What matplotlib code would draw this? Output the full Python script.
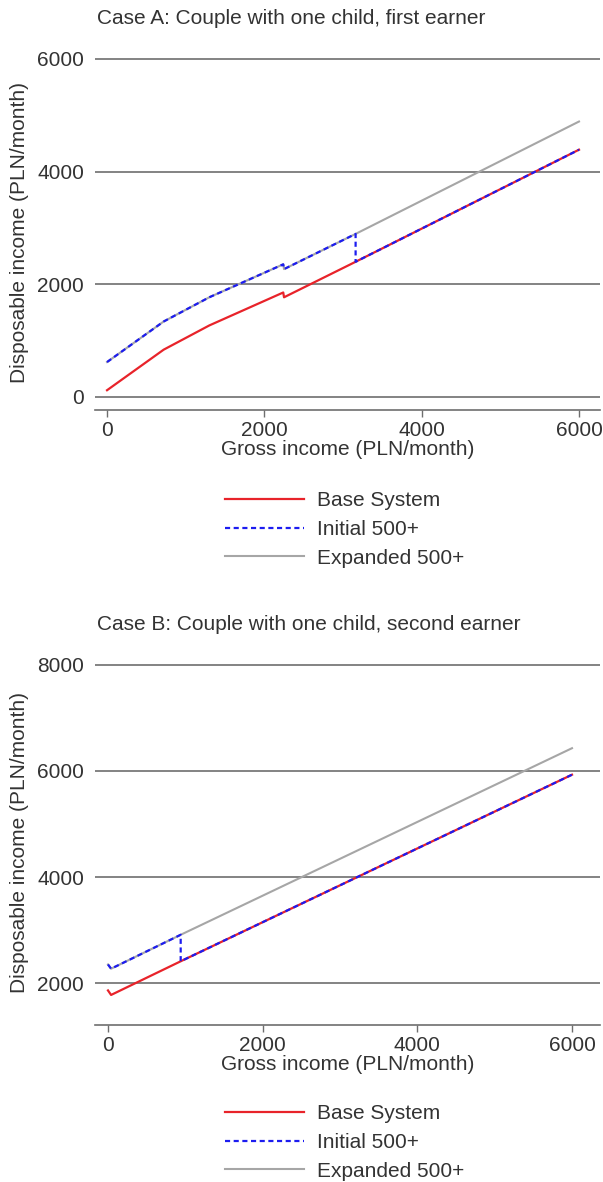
import matplotlib.pyplot as plt

plt.rcParams['font.family'] = ['Liberation Sans', 'DejaVu Sans']

# Case A: first earner
gross_a = [0, 720, 1300, 2240, 2250, 3160, 6000]
base_a = [120, 840, 1270, 1855, 1770, 2400, 4390]
gross_a_init = [0, 720, 1300, 2240, 2250, 3160, 3160, 6000]
initial_a = [620, 1340, 1770, 2355, 2270, 2895, 2400, 4390]
expanded_a = [620, 1340, 1770, 2355, 2270, 2895, 4890]

# Case B: second earner
gross_b = [0, 40, 940, 6000]
base_b = [1860, 1775, 2410, 5930]
gross_b_init = [0, 40, 940, 940, 6000]
initial_b = [2350, 2270, 2910, 2410, 5930]
expanded_b = [2350, 2270, 2910, 6430]

x_ticks = [0, 2000, 4000, 6000]
y_ticks_a = [0, 2000, 4000, 6000]
y_ticks_b = [2000, 4000, 6000, 8000]

W, H = 603, 1182
txt = '#333333'
grid = '#6e6e6e'
fs = 15

fig = plt.figure(figsize=(W / 100, H / 100), dpi=100)


def panel(top_px, bot_px, xlim, ylim, gx, base, gxi, init, exp, yticks, title, leg_top):
    ax = fig.add_axes([95 / W, 1 - bot_px / H, 505 / W, (bot_px - top_px) / H])
    ax.plot(gx, exp, color='#a6a6a6', lw=1.5, zorder=2, label='Expanded 500+')
    ax.plot(gx, base, color='#e8232a', lw=1.6, zorder=3, label='Base System')
    ax.plot(gxi, init, color='#1c1cf0', lw=1.6, ls=(0, (2.3, 1.6)), zorder=4,
            label='Initial 500+')
    ax.set_xlim(*xlim)
    ax.set_ylim(*ylim)
    ax.set_xticks(x_ticks)
    ax.set_yticks(yticks)
    ax.grid(axis='y', color=grid, lw=1.2)
    ax.set_axisbelow(True)
    for s in ['top', 'right', 'left']:
        ax.spines[s].set_visible(False)
    ax.spines['bottom'].set_color(grid)
    ax.spines['bottom'].set_linewidth(1.2)
    ax.tick_params(axis='x', length=5, width=1, color=grid, pad=3,
                   labelsize=fs, labelcolor=txt)
    ax.tick_params(axis='y', length=0, pad=8, labelsize=fs, labelcolor=txt)
    ax.set_xlabel('Gross income (PLN/month)', fontsize=fs, color=txt, labelpad=0)
    ax.set_ylabel('Disposable income (PLN/month)', fontsize=fs, color=txt, labelpad=6)
    fig.text(97 / W, 1 - (top_px - 36) / H, title, fontsize=fs, color=txt,
             va='center', ha='left')
    h, l = ax.get_legend_handles_labels()
    order = [1, 2, 0]
    ax.legend([h[i] for i in order], [l[i] for i in order],
              loc='upper left', bbox_to_anchor=(225 / W, 1 - leg_top / H),
              bbox_transform=fig.transFigure, frameon=False, fontsize=fs,
              handlelength=3.8, handletextpad=0.6, labelspacing=0.47,
              borderpad=0, borderaxespad=0, labelcolor=txt)
    return ax


panel(55, 410, (-153, 6267), (-231, 6071), gross_a, base_a, gross_a_init,
      initial_a, expanded_a, y_ticks_a,
      'Case A: Couple with one child, first earner', 491)
panel(661, 1025, (-168, 6362), (1208, 8075), gross_b, base_b, gross_b_init,
      initial_b, expanded_b, y_ticks_b,
      'Case B: Couple with one child, second earner', 1104)

fig.savefig('out.png', dpi=100)
